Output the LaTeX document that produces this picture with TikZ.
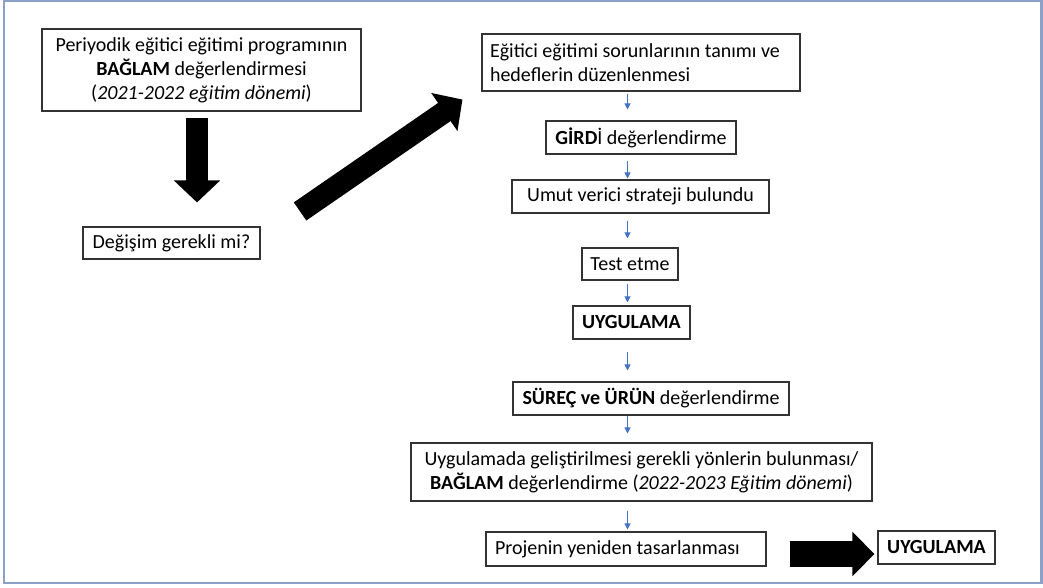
\documentclass[tikz,border=0pt]{standalone}
\usepackage{fontspec}
\setmainfont{Carlito}
\usetikzlibrary{arrows.meta}
\definecolor{framecolor}{RGB}{140,160,200}
\definecolor{flowblue}{RGB}{68,114,196}
\tikzset{
  box/.style={draw=black!80, line width=1.1pt, inner sep=4pt, align=center,
    font=\fontsize{20}{24}\selectfont},
  flow/.style={draw=flowblue, line width=1pt, -{Triangle[width=6pt,length=6pt]}},
  blockarrow/.style={draw=black, line width=22pt, -{Triangle[width=45pt,length=22pt]}},
}
\begin{document}
\begin{tikzpicture}[x=1pt,y=-1pt]
      \useasboundingbox (0,0) rectangle (1043,588);
      \draw[framecolor, line width=2.2pt] (4,1) rectangle (1041.5,583);
      \path
        (201.5,70) node[box, minimum width=319, minimum height=82] (periyodik)
          {Periyodik eğitici eğitimi programının\\ \textbf{BAĞLAM} değerlendirmesi\\ (\textit{2021-2022 eğitim dönemi})}
        (171.5,243) node[box, minimum width=177, minimum height=32] (degisim) {Değişim gerekli mi?}
        (641,62.5) node[box, text width=302, inner xsep=8, align=flush left, minimum height=57] (sorun)
          {Eğitici eğitimi sorunlarının tanımı ve\\ hedeflerin düzenlenmesi}
        (641,137.5) node[box, minimum width=190, minimum height=33] (girdi) {\textbf{GİRD}İ değerlendirme}
        (640.5,196.5) node[box, minimum width=257, minimum height=33] (umut) {Umut verici strateji bulundu}
        (630,264) node[box, minimum width=96, minimum height=32] (test) {Test etme}
        (631.5,322.5) node[box, minimum width=117, minimum height=33] (uygulama) {\textbf{UYGULAMA}}
        (651,398.5) node[box, minimum width=276, minimum height=33] (surec) {\textbf{SÜREÇ ve ÜRÜN} değerlendirme}
        (641.5,472) node[box, minimum width=461, minimum height=58] (gelistir)
          {Uygulamada geliştirilmesi gerekli yönlerin bulunması/\\ \textbf{BAĞLAM} değerlendirme (\textit{2022-2023 Eğitim dönemi})}
        (626,549) node[box, text width=262, inner xsep=9, align=flush left, minimum height=34] (proje) {Projenin yeniden tasarlanması}
        (936.5,547.5) node[box, minimum width=117, minimum height=33] (uygulamaiki) {\textbf{UYGULAMA}};
      \coordinate (axis) at (627.5,0);
      % big black arrows
      \draw[blockarrow] ([shift={(-4.5,6)}]periyodik.south) -- ([shift={(25.5,-24)}]degisim.north);
      \draw[blockarrow] ([shift={(39.5,-15)}]degisim.north east) -- ([shift={(-19,8)}]sorun.south west);
      \draw[blockarrow, line width=26pt, -{Triangle[width=43pt,length=22pt]}]
        ([shift={(23,5)}]proje.east) -- ([shift={(-3,6.5)}]uygulamaiki.west);
      % thin blue arrows
      \begin{scope}[flow]
        \draw[shorten <=2pt, shorten >=11pt] (sorun.south -| axis) to (girdi.north -| axis);
        \draw[shorten <=6pt, shorten >=1pt] (girdi.south -| axis) to (umut.north -| axis);
        \draw[shorten <=7pt, shorten >=9pt] (umut.south -| axis) to (test.north -| axis);
        \draw[shorten <=3pt, shorten >=3pt] (test.south -| axis) to (uygulama.north -| axis);
        \draw[shorten <=12pt, shorten >=11pt] (uygulama.south -| axis) to (surec.north -| axis);
        \draw[shorten <=0pt, shorten >=9pt] (surec.south -| axis) to (gelistir.north -| axis);
        \draw[shorten <=9pt, shorten >=2pt] (gelistir.south -| axis) to (proje.north -| axis);
      \end{scope}
    \end{tikzpicture}
\end{document}
